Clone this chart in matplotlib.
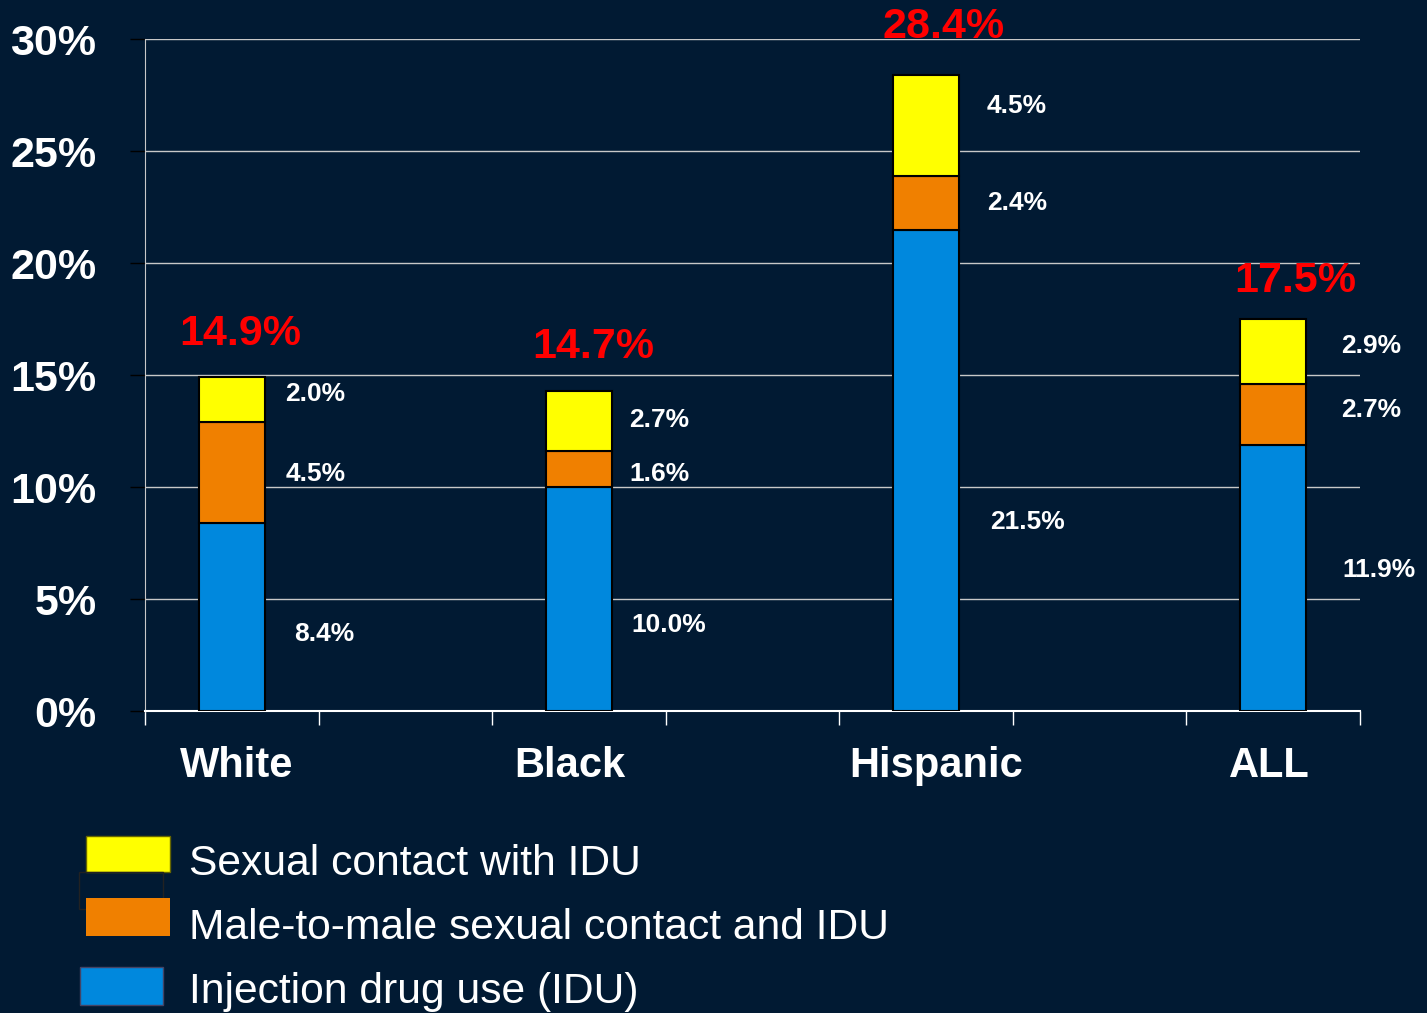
import matplotlib.pyplot as plt
from matplotlib.patches import Rectangle

plt.rcParams['font.family'] = ['Liberation Sans', 'DejaVu Sans']

groups = ['White', 'Black', 'Hispanic', 'ALL']
idu = [8.4, 10.0, 21.5, 11.9]
msm_idu = [4.5, 1.6, 2.4, 2.7]
sex_idu = [2.0, 2.7, 4.5, 2.9]
totals = ['14.9%', '14.7%', '28.4%', '17.5%']
series_names = ['Sexual contact with IDU', 'Male-to-male sexual contact and IDU',
                'Injection drug use (IDU)']

bg = '#011a33'
c_blue = '#0088dd'
c_orange = '#f08000'
c_yellow = '#ffff00'

fig = plt.figure(figsize=(14.27, 10.13), dpi=100, facecolor=bg)
ax = fig.add_axes([0.1016, 0.298, 0.8514, 0.6634], facecolor=bg)

x = [0.5, 2.5, 4.5, 6.5]
w = 0.38
bottom2 = [a + b for a, b in zip(idu, msm_idu)]
ax.bar(x, idu, w, color=c_blue, edgecolor='black', linewidth=1.5, zorder=3)
ax.bar(x, msm_idu, w, bottom=idu, color=c_orange, edgecolor='black', linewidth=1.5, zorder=3)
ax.bar(x, sex_idu, w, bottom=bottom2, color=c_yellow, edgecolor='black', linewidth=1.5, zorder=3)

# segment labels, placed by hand like the original slide
lab_dx = [[0.36, 0.31, 0.31], [0.30, 0.29, 0.29], [0.37, 0.35, 0.35], [0.40, 0.39, 0.39]]
lab_y = [[3.45, 10.6, 14.15], [3.85, 10.6, 13.0], [8.45, 22.7, 27.0], [6.3, 13.45, 16.3]]
for i in range(4):
    vals = [idu[i], msm_idu[i], sex_idu[i]]
    for j in range(3):
        ax.text(x[i] + lab_dx[i][j], lab_y[i][j], f'{vals[j]:.1f}%', color='white',
                fontsize=19, fontweight='bold', ha='left', va='center', zorder=4)

tot_dx = [0.05, 0.08, 0.1, 0.13]
tot_y = [16.85, 16.25, 30.55, 19.2]
for i in range(4):
    ax.text(x[i] + tot_dx[i], tot_y[i], totals[i], color='#ff0000', fontsize=31,
            fontweight='bold', ha='center', va='center', zorder=4)

ax.set_xlim(0, 7)
ax.set_ylim(0, 30)
ax.set_yticks(range(0, 31, 5))
ax.set_yticklabels([f'{v}%' for v in range(0, 31, 5)])
ax.set_xticks(range(8))
ax.set_xticklabels([])
ax.grid(axis='y', color='#c8c8c8', linewidth=1, zorder=0)
ax.tick_params(axis='y', colors='black', labelcolor='white', labelsize=31,
               length=11, width=1, pad=24)
ax.tick_params(axis='x', colors='white', direction='out', length=10, width=1)
for lbl in ax.get_yticklabels():
    lbl.set_fontweight('bold')
for s in ['top', 'right']:
    ax.spines[s].set_visible(False)
ax.spines['left'].set_color('#c8c8c8')
ax.spines['bottom'].set_color('white')
ax.spines['bottom'].set_linewidth(1.5)

cat_dx = [0.03, -0.05, 0.06, -0.02]
for i in range(4):
    ax.text(x[i] + cat_dx[i], -2.45, groups[i], color='white', fontsize=30,
            fontweight='bold', ha='center', va='center', transform=ax.transData)

# legend drawn by hand in figure pixels
W, H = 1427, 1013
def frect(x0, y0, x1, y1, **kw):
    fig.patches.append(Rectangle((x0 / W, 1 - y1 / H), (x1 - x0) / W, (y1 - y0) / H,
                                 transform=fig.transFigure, figure=fig, **kw))

frect(86, 836, 170, 872, facecolor=c_yellow, edgecolor='#666600', linewidth=1)
frect(79, 872, 163, 909, facecolor='none', edgecolor='#222222', linewidth=1)
frect(86, 898, 170, 936, facecolor=c_orange, edgecolor='none')
frect(80, 967, 163, 1005, facecolor=c_blue, edgecolor='#444466', linewidth=1)
for name, yy in zip(series_names, [864, 928, 992]):
    fig.text(189 / W, 1 - yy / H, name, color='white', fontsize=30.7, ha='left', va='center')

fig.savefig('out.png', dpi=100, facecolor=bg)
